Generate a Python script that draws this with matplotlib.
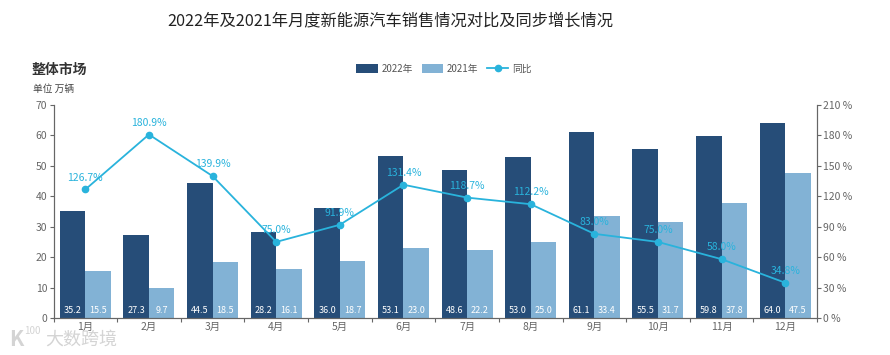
import matplotlib
matplotlib.use("Agg")
import matplotlib.pyplot as plt
import numpy as np

plt.rcParams['font.family'] = ['Noto Sans CJK SC', 'DejaVu Sans']

months = ["1月", "2月", "3月", "4月", "5月", "6月", "7月", "8月", "9月", "10月", "11月", "12月"]
sales_2022 = [35.2, 27.3, 44.5, 28.2, 36.0, 53.1, 48.6, 53.0, 61.1, 55.5, 59.8, 64.0]
sales_2021 = [15.5, 9.7, 18.5, 16.1, 18.7, 23.0, 22.2, 25.0, 33.4, 31.7, 37.8, 47.5]
yoy = [126.7, 180.9, 139.9, 75.0, 91.9, 131.4, 118.7, 112.2, 83.0, 75.0, 58.0, 34.8]

DARK = "#264d78"
LIGHT = "#82b2d5"
LINE = "#29b3dc"
GREY = "#666666"

W, H = 890, 355
fig = plt.figure(figsize=(W / 100, H / 100), dpi=100)
ax = fig.add_axes([53.5 / W, 1 - 318 / H, (817 - 53.5) / W, (318 - 105) / H])
x = np.arange(len(months))
bw = 0.4

ax.bar(x - bw / 2, sales_2022, bw, color=DARK, label="2022年", zorder=2)
ax.bar(x + bw / 2, sales_2021, bw, color=LIGHT, label="2021年", zorder=2)
for i in x:
    ax.text(i - bw / 2, 2.6, f"{sales_2022[i]:.1f}", color="white", fontsize=6.5,
            ha="center", va="center", zorder=5)
    ax.text(i + bw / 2, 2.6, f"{sales_2021[i]:.1f}", color="white", fontsize=6.5,
            ha="center", va="center", zorder=5)

ax.set_xlim(-0.5, 11.5)
ax.set_ylim(0, 70)
ax.set_yticks(range(0, 71, 10))
ax.set_xticks(np.arange(-0.5, 12, 1))
ax.set_xticklabels([])
ax.set_xticks(x, months, minor=True)
ax.tick_params(axis="x", which="major", length=3, color=GREY, direction="out")
ax.tick_params(axis="x", which="minor", length=0, labelsize=7.5, labelcolor=GREY, pad=3)
ax.tick_params(axis="y", length=3, color=GREY, labelsize=7.5, labelcolor=GREY, pad=1.5)

ax2 = ax.twinx()
line, = ax2.plot(x, yoy, color=LINE, lw=1.3, marker="o", ms=4.5, label="同比", zorder=4)
ax2.set_ylim(0, 210)
ax2.set_yticks(range(0, 211, 30))
ax2.set_yticklabels([f"{v} %" for v in range(0, 211, 30)])
ax2.tick_params(axis="y", length=3, color=GREY, labelsize=7.5, labelcolor=GREY, pad=1)
for i in x:
    ax2.annotate(f"{yoy[i]:.1f}%", (i, yoy[i]), xytext=(0, 5), textcoords="offset points",
                 color=LINE, fontsize=7.5, ha="center", va="bottom", zorder=6)

for a in (ax, ax2):
    a.spines["top"].set_visible(False)
    for s in ("left", "right", "bottom"):
        a.spines[s].set_color(GREY)
ax2.set_zorder(ax.get_zorder() + 1)
ax2.patch.set_visible(False)

# titles
fig.text(390 / W, 1 - 21 / H, "2022年及2021年月度新能源汽车销售情况对比及同步增长情况",
         fontsize=11.7, color="#222222", ha="center", va="center")
fig.text(32 / W, 1 - 70 / H, "整体市场", fontsize=10, fontweight="bold", color="#333333", va="center")
fig.text(33 / W, 1 - 89 / H, "单位 万辆", fontsize=7, color="#444444", va="center")

handles = [ax.containers[0], ax.containers[1], line]
fig.legend(handles, ["2022年", "2021年", "同比"], loc="center", bbox_to_anchor=(444 / W, 1 - 69 / H),
           ncol=3, frameon=False, fontsize=7, labelcolor="#555555", handlelength=2.2,
           handleheight=1.0, columnspacing=0.9, handletextpad=0.4)

# watermark
fig.text(9 / W, 1 - 340 / H, "K", fontsize=15, color="#d4d4d4", fontweight="bold", va="center")
fig.text(24 / W, 1 - 331 / H, "100", fontsize=7, color="#d4d4d4", va="center")
fig.text(45 / W, 1 - 340 / H, "大数跨境", fontsize=13, color="#d4d4d4", va="center")

fig.savefig("out.png", dpi=100)
